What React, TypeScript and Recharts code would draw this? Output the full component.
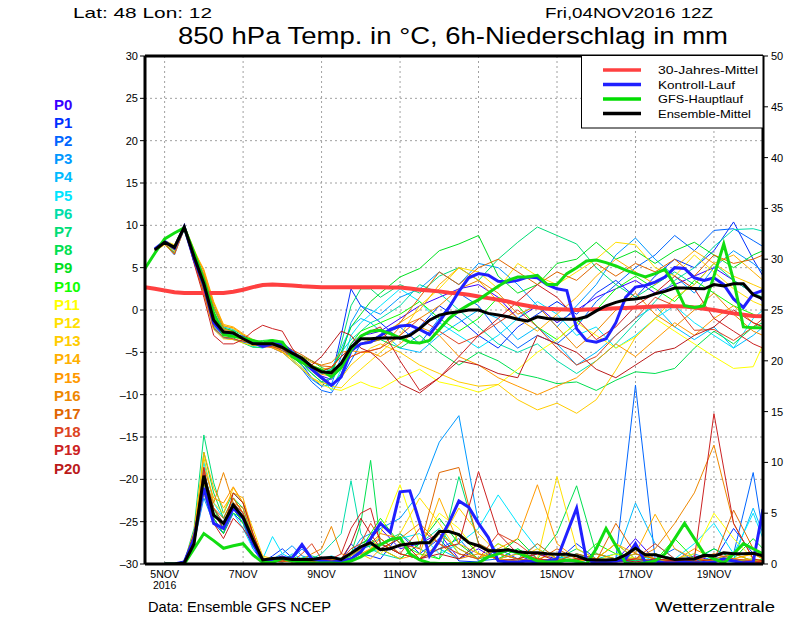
import React from "react";
import { LineChart, Line, XAxis, YAxis, CartesianGrid, ReferenceLine } from "recharts";

// hours after Fri 04NOV2016 12Z, 6-hourly
const HOURS = [
  0, 6, 12, 18, 24, 30, 36, 42, 48, 54, 60, 66, 72, 78, 84, 90,
  96, 102, 108, 114, 120, 126, 132, 138, 144, 150, 156, 162, 168, 174, 180, 186,
  192, 198, 204, 210, 216, 222, 228, 234, 240, 246, 252, 258, 264, 270, 276, 282,
  288, 294, 300, 306, 312, 318, 324, 330, 336, 342, 348, 354, 360, 366, 372, 378,
];

// member runs are read at 6h to h144, then 12h
const MEMBER_HOURS = [
  6, 12, 18, 24, 30, 36, 42, 48, 54, 60, 66, 72, 78, 84, 90, 96, 102, 108, 114, 120, 126, 132, 138, 144,
  156, 168, 180, 192, 204, 216, 228, 240, 252, 264, 276, 288, 300, 312, 324, 336, 348, 360, 372, 378,
];
const RAIN_HOURS = MEMBER_HOURS.slice(1);

const X_TICKS = [12, 60, 108, 156, 204, 252, 300, 348];
const X_TICK_LABELS = ["5NOV", "7NOV", "9NOV", "11NOV", "13NOV", "15NOV", "17NOV", "19NOV"];
const TEMP_TICKS = [-30, -25, -20, -15, -10, -5, 0, 5, 10, 15, 20, 25, 30];
const RAIN_TICKS = [0, 5, 10, 15, 20, 25, 30, 35, 40, 45, 50];

// 850 hPa temperature, main curves
const T_CLIMATE = [
  2.7, 2.5, 2.3, 2.1, 2.0, 2.0, 2.0, 2.0,
  2.0, 2.15, 2.4, 2.7, 2.95, 3.0, 2.95, 2.9,
  2.8, 2.75, 2.7, 2.7, 2.7, 2.7, 2.7, 2.7,
  2.7, 2.65, 2.65, 2.55, 2.4, 2.3, 2.2, 2.05,
  1.95, 1.8, 1.6, 1.4, 1.2, 1.0, 0.7, 0.5,
  0.3, 0.15, 0.1, 0.05, 0.0, 0.05, 0.1, 0.15,
  0.2, 0.25, 0.3, 0.35, 0.4, 0.45, 0.45, 0.4,
  0.3, 0.15, 0.0, -0.2, -0.4, -0.55, -0.7, -0.75,
];
const T_CONTROL = [
  null, 7.2, 8.1, 7.3, 9.8, 6.0, 3.0, -1.5,
  -2.8, -3.0, -3.2, -3.8, -4.3, -4.0, -4.0, -5.0,
  -6.0, -7.0, -8.0, -8.9, -7.9, -4.8, -4.0, -3.8,
  -3.0, -2.3, -1.9, -1.8, -2.3, -2.9, -1.4, 0.3,
  2.2, 3.8, 4.3, 4.1, 3.4, 3.3, 3.5, 3.9,
  3.8, 3.0, 2.5, 2.3, -2.2, -3.6, -3.8, -3.4,
  -1.5, 1.5, 2.7, 2.9, 3.3, 3.9, 5.0, 4.9,
  3.8, 3.5, 3.8, 3.0, 1.3, 0.3, 1.9, 2.3,
];
const T_GFS = [
  4.9, 6.7, 8.4, 9.1, 9.7, 6.8, 3.5, -0.4,
  -2.9, -3.1, -3.3, -3.6, -3.9, -3.6, -3.8, -5.5,
  -6.2, -6.7, -7.1, -7.9, -6.8, -4.7, -3.1, -2.5,
  -2.4, -2.8, -3.3, -3.8, -3.9, -3.6, -2.3, -1.0,
  -0.1, 0.6, 1.2, 2.0, 2.8, 3.5, 3.9, 3.9,
  4.1, 3.0, 3.0, 4.3, 5.0, 5.8, 5.9, 5.6,
  5.2, 4.7, 4.3, 3.9, 4.3, 4.8, 3.0, 0.5,
  0.3, 0.5, 4.0, 7.8, 3.5, -2.0, -2.1, -2.1,
];
const T_MEAN = [
  null, 7.1, 8.0, 7.4, 9.8, 6.3, 3.1, -1.2,
  -2.6, -2.7, -3.4, -4.0, -4.0, -4.0, -4.4, -5.1,
  -5.7, -6.7, -7.3, -7.4, -6.3, -4.4, -3.4, -3.4,
  -3.3, -3.3, -3.3, -3.0, -2.2, -1.2, -0.6, -0.35,
  -0.2, 0.0, 0.0, -0.4, -0.6, -0.8, -1.1, -1.3,
  -0.8, -1.0, -1.1, -1.1, -1.1, -0.8, -0.1, 0.5,
  0.9, 1.2, 1.3, 1.5, 1.9, 2.2, 2.6, 2.6,
  2.55, 2.5, 3.0, 2.85, 3.1, 3.1, 1.8, 1.3,
];

// 6h precipitation (mm), main curves
const R_CONTROL = [
  null, null, 0, 0, 0.2, 2.5, 7.5, 4.0,
  3.5, 5.5, 4.5, 2.0, 0.3, 0.3, 0.6, 0.6,
  1.9, 0.5, 0.3, 0.2, 0.3, 0.5, 1.2, 2.5,
  4.0, 3.1, 7.1, 7.2, 4.1, 0.8, 2.3, 4.1,
  6.2, 5.6, 4.0, 2.6, 0.3, 0.2, 0.2, 0.3,
  0.2, 0.3, 0.5, 3.0, 5.5, 0.4, 0.1, 0.2,
  0.3, 0.5, 2.0, 0.2, 0.3, 0.1, 0.1, 0.2,
  0.1, 0.1, 0.2, 0.5, 0.3, 0.1, 0.2, 5.4,
];
const R_GFS = [
  null, null, 0, 0, 0, 1.5, 3.0, 2.3,
  1.55, 1.8, 2.0, 0.9, 0.15, 0.15, 0.55, 0.3,
  0.2, 0.1, 0.1, 0.1, 0.05, 0.3, 0.7, 1.3,
  1.9, 2.4, 2.6, 1.0, 0.4, 0.1, 0.05, 0.05,
  0.05, 0.05, 0.1, 0.7, 1.0, 1.4, 1.1, 0.7,
  0.3, 0.2, 0.2, 0.4, 0.3, 0.0, 1.5, 3.5,
  1.8, 0.1, 0.0, 0.1, 0.3, 1.0, 2.5, 4.0,
  2.5, 1.0, 0.5, 0.1, 1.0, 2.0, 1.5, 1.0,
];
const R_MEAN = [
  null, null, 0, 0, 0.1, 2.0, 8.7, 4.8,
  4.0, 5.8, 4.6, 2.4, 0.4, 0.55, 0.6, 0.45,
  0.45, 0.45, 0.6, 0.65, 0.45, 1.05, 1.7, 2.1,
  1.4, 1.5, 1.85, 2.0, 2.1, 2.1, 3.2, 3.2,
  2.9, 2.1, 1.8, 1.3, 1.3, 1.4, 1.2, 1.1,
  1.1, 1.0, 0.95, 0.95, 0.8, 0.45, 0.4, 0.4,
  0.45, 0.9, 1.55, 0.9, 0.9, 0.65, 0.45, 0.5,
  0.5, 0.85, 0.8, 1.1, 1.0, 1.0, 1.05, 0.8,
];

// ensemble members, temperature on MEMBER_HOURS
const T_P0 = [7.2, 8.1, 7.3, 9.9, 6.5, 3.3, -1.0, -2.5, -2.9, -3.5, -4.2, -4.0, -3.8, -4.2, -5.0, -5.8, -7.0, -7.8, -8.2, -6.8, -4.0, -3.0, -2.8, -2.5, -1.0, 0.5, 1.5, 2.5, 3.0, 1.5, -1.0, 0.5, -1.5, 0.0, 1.5, 2.5, 3.5, 2.0, 3.0, 4.0, 5.0, 3.5, 2.0, 1.0];
const T_P1 = [7.0, 7.9, 6.8, 9.7, 6.0, 2.5, -1.8, -3.0, -3.0, -3.2, -3.8, -4.2, -4.3, -4.5, -5.5, -6.5, -8.0, -9.0, -8.0, -3.0, 2.5, 0.5, -0.5, -1.5, -3.5, -2.0, 0.5, -1.0, -3.0, -4.5, -2.0, -0.5, 1.0, -0.5, 2.0, 3.5, 1.5, 4.0, 6.0, 5.0, 7.0, 10.4, 6.0, 4.0];
const T_P2 = [6.9, 7.8, 6.5, 9.6, 5.8, 2.0, -2.2, -3.3, -3.5, -3.8, -4.0, -3.8, -4.5, -5.0, -6.0, -7.0, -8.5, -9.5, -9.8, -8.0, -6.0, -4.0, -3.5, -3.0, -2.0, -4.0, -1.0, 2.0, 0.5, -2.5, -4.5, -3.0, -4.0, -2.0, 1.0, 3.0, 5.0, 6.5, 8.8, 7.0, 9.4, 9.6, 8.2, 7.5];
const T_P3 = [7.3, 8.2, 7.6, 10.0, 7.0, 4.0, -0.2, -2.2, -2.5, -3.3, -4.1, -4.3, -4.0, -4.6, -5.8, -6.8, -8.2, -9.0, -8.8, -5.5, -1.5, 0.5, 0.0, -0.5, 1.5, 2.5, 4.5, 3.0, 5.5, 5.0, 3.0, 0.5, -2.0, 0.5, 3.0, 6.5, 8.5, 6.0, 4.0, 2.0, 5.0, 7.0, 5.5, 4.5];
const T_P4 = [7.1, 8.0, 7.5, 9.8, 6.8, 4.3, 0.5, -2.0, -2.3, -3.0, -3.8, -4.0, -4.2, -4.8, -5.5, -6.2, -7.0, -7.5, -7.0, -4.5, -2.0, -1.0, -1.5, -2.5, -4.5, -5.0, -3.0, -1.5, 0.0, -1.0, -3.5, -2.0, -4.0, -6.5, -5.0, -3.0, -1.0, 0.5, -2.0, -3.5, -2.0, -4.5, -3.0, -2.0];
const T_P5 = [7.2, 8.0, 7.2, 9.8, 6.2, 3.0, -1.3, -2.8, -2.8, -3.6, -4.3, -4.5, -4.0, -4.0, -4.8, -5.5, -6.5, -8.0, -9.5, -7.0, -3.0, -1.5, -0.5, 0.5, 2.5, 1.0, -1.5, -3.0, -4.5, -3.0, -1.0, 1.0, -0.5, -3.0, -2.0, -4.5, -3.0, -1.0, 0.5, -1.5, -3.0, -4.5, -1.0, 0.0];
const T_P6 = [7.0, 7.9, 7.0, 9.7, 6.0, 2.8, -1.5, -2.8, -2.6, -3.2, -3.9, -4.1, -4.0, -4.5, -5.2, -6.0, -7.0, -7.5, -7.0, -5.0, -3.5, -2.5, -1.5, -1.0, 0.5, 3.0, 2.0, 0.0, -2.0, -4.0, -5.0, -4.0, -6.0, -7.5, -6.0, -4.0, -1.5, 1.0, 3.5, 5.0, 7.5, 9.5, 9.6, 9.3];
const T_P7 = [7.3, 8.1, 7.5, 9.9, 6.8, 3.8, -0.5, -2.3, -2.4, -3.0, -3.6, -3.8, -4.2, -4.6, -5.5, -6.5, -7.5, -8.5, -8.0, -4.0, 0.5, 2.5, 2.5, 1.5, 3.0, 2.0, 4.0, 5.0, 3.5, 6.0, 8.0, 9.8, 8.8, 7.8, 5.0, 3.0, 1.5, 3.0, 4.5, 3.0, 5.5, 3.5, 2.0, 1.5];
const T_P8 = [6.9, 7.8, 6.7, 9.6, 5.9, 2.2, -2.0, -3.2, -3.3, -3.9, -4.4, -4.4, -4.0, -4.2, -5.3, -6.2, -7.5, -8.5, -9.0, -7.5, -5.0, -4.0, -3.8, -3.5, -4.5, -3.0, -5.0, -6.5, -5.0, -6.0, -7.5, -8.0, -8.7, -8.5, -9.5, -8.3, -7.3, -7.5, -6.9, -4.5, -2.5, -4.0, -2.0, -1.5];
const T_P9 = [7.1, 8.0, 7.4, 9.8, 6.6, 4.0, 0.2, -2.1, -2.5, -3.3, -3.8, -3.6, -3.5, -4.2, -5.0, -5.5, -6.0, -6.8, -7.2, -5.0, -2.0, -0.5, 1.0, 2.0, 3.9, 4.9, 7.0, 7.8, 8.8, 4.0, 2.0, 3.0, 5.5, 6.0, 8.0, 6.0, 7.0, 5.5, 7.0, 8.0, 6.5, 5.0, 6.5, 7.0];
const T_P10 = [7.2, 8.1, 7.4, 9.9, 6.4, 3.2, -1.1, -2.6, -2.8, -3.5, -4.1, -4.0, -4.1, -4.3, -4.9, -5.6, -6.6, -7.2, -7.5, -6.5, -4.0, -2.5, -2.0, -1.5, -0.5, 1.0, -1.0, -2.5, -1.0, 1.5, 0.5, -2.0, -3.5, -1.5, 0.0, 2.5, 4.0, 2.5, 1.0, 3.5, 2.0, 0.5, -0.5, -1.0];
const T_P11 = [7.0, 7.9, 6.9, 9.7, 6.1, 2.7, -1.6, -2.9, -3.1, -3.6, -4.0, -4.1, -4.3, -4.9, -5.8, -6.8, -8.0, -8.8, -9.3, -9.5, -9.0, -8.5, -9.0, -9.3, -8.0, -7.0, -8.5, -9.0, -9.7, -8.8, -7.0, -5.0, -3.5, -1.5, -3.0, -4.5, -3.2, -1.0, -2.5, -4.0, -5.5, -6.9, -6.7, -4.1];
const T_P12 = [7.3, 8.2, 7.7, 10.0, 7.2, 4.5, 0.8, -1.8, -2.2, -3.0, -3.6, -3.9, -4.0, -4.4, -5.2, -6.0, -7.2, -8.2, -9.0, -9.2, -8.0, -7.0, -6.0, -5.0, -3.0, 0.5, 2.5, 5.0, 4.5, 2.5, 5.5, 4.0, 3.0, 4.5, 6.0, 8.0, 7.7, 5.0, 4.0, 6.5, 4.5, 2.5, 1.0, 0.5];
const T_P13 = [6.9, 7.7, 6.6, 9.5, 5.6, 1.8, -2.3, -3.4, -3.5, -3.9, -4.2, -4.2, -4.4, -5.0, -6.0, -7.0, -8.0, -8.6, -8.8, -8.0, -6.5, -5.5, -4.5, -4.0, -5.0, -6.5, -7.5, -8.5, -9.0, -8.8, -10.6, -11.8, -11.0, -12.2, -10.6, -7.1, -3.2, -1.0, 1.5, 3.0, 5.5, 4.0, 3.0, 2.5];
const T_P14 = [7.1, 8.0, 7.6, 9.8, 7.0, 4.8, 1.0, -1.7, -2.0, -2.8, -3.5, -3.9, -4.2, -4.5, -5.0, -5.8, -6.5, -7.0, -6.8, -5.5, -4.5, -4.0, -3.5, -3.0, -1.5, 0.0, 3.0, 5.0, 3.5, 1.0, -1.0, -2.5, -0.5, 1.5, 4.0, 6.0, 4.5, 3.0, 5.0, 7.0, 5.5, 6.5, 4.5, 3.5];
const T_P15 = [7.2, 8.0, 7.3, 9.9, 6.9, 4.6, 0.8, -1.9, -2.1, -2.9, -3.7, -4.1, -4.5, -5.0, -5.6, -6.3, -7.0, -7.6, -7.8, -7.0, -5.5, -5.0, -5.0, -5.5, -4.0, -2.0, -3.0, -5.5, -6.5, -8.0, -9.0, -10.0, -9.0, -8.0, -6.0, -4.0, -5.5, -3.5, -1.5, -3.0, -1.0, 0.5, -1.5, -2.0];
const T_P16 = [7.0, 7.9, 7.1, 9.7, 6.6, 4.2, 0.4, -2.2, -2.6, -3.3, -3.9, -4.3, -4.4, -4.6, -5.0, -5.5, -6.2, -6.5, -6.2, -5.0, -4.8, -5.0, -4.8, -4.5, -2.0, -1.0, 0.5, 2.5, 3.5, 2.0, -0.5, 0.5, -2.0, -4.5, -2.5, 0.0, 2.0, -0.5, -2.0, 0.0, 2.0, -0.5, -2.5, -3.0];
const T_P17 = [7.3, 8.1, 7.5, 9.9, 6.7, 3.6, -0.8, -2.4, -2.7, -3.2, -3.7, -3.9, -3.8, -4.1, -4.7, -5.3, -6.0, -6.6, -6.7, -5.5, -4.5, -4.0, -3.8, -3.5, -1.5, 1.5, 4.5, 3.0, 5.0, 6.0, 4.5, 3.0, 4.5, 3.5, 5.5, 4.0, 5.5, 4.5, 6.0, 4.0, 6.5, 5.5, 6.0, 6.5];
const T_P18 = [6.9, 7.8, 6.6, 9.6, 5.7, 2.1, -2.1, -3.2, -3.4, -3.7, -4.0, -4.4, -4.3, -4.8, -5.4, -6.0, -6.8, -7.4, -7.6, -6.8, -5.5, -5.0, -4.8, -4.5, -3.0, -1.0, -2.5, -4.0, -3.0, -1.5, 0.0, -2.0, -4.5, -6.5, -5.5, -3.0, -1.0, 1.5, 0.5, -2.4, -2.3, -3.6, -2.0, -1.0];
const T_P19 = [7.1, 7.9, 7.2, 9.8, 5.5, 1.5, -3.0, -4.0, -4.0, -3.5, -2.5, -1.8, -2.2, -2.5, -4.5, -6.0, -7.0, -7.2, -6.8, -5.5, -4.5, -3.0, -2.5, -2.0, -6.0, -9.5, -8.0, -5.5, -3.0, -1.0, 1.0, 3.0, 1.5, -1.0, -3.5, -2.0, 0.5, 2.0, 4.0, 2.5, -1.0, -2.5, -4.0, -4.5];
const T_P20 = [7.2, 8.0, 7.3, 9.8, 6.0, 2.6, -1.6, -2.9, -3.0, -3.4, -3.9, -4.0, -4.1, -4.6, -5.4, -6.0, -6.5, -5.5, -4.0, -2.5, -3.0, -4.5, -5.0, -6.0, -8.7, -9.8, -8.0, -6.0, -6.5, -7.5, -8.0, -3.0, -4.0, -5.0, -7.0, -8.0, -6.5, -5.0, -4.5, -3.0, -2.0, 0.0, -1.5, -2.0];

// ensemble members, precipitation on RAIN_HOURS
const R_P0 = [0, 0, 0.2, 2.5, 8.0, 5.0, 3.5, 6.0, 4.5, 2.0, 0.3, 0.5, 0.8, 0.4, 2.0, 0.5, 0.2, 0.3, 0.4, 1.0, 2.0, 2.5, 3.5, 1.5, 2.0, 3.0, 0.5, 1.5, 0.3, 0.2, 1.0, 0.5, 0.2, 0.5, 0.3, 2.5, 0.4, 0.2, 0.8, 0.3, 0.5, 0.2, 0.3];
const R_P1 = [0, 0, 0.1, 3.0, 9.5, 4.5, 3.0, 5.0, 4.0, 1.5, 0.2, 0.8, 1.5, 0.6, 0.3, 0.2, 0.1, 0.5, 0.3, 2.0, 1.0, 0.8, 0.5, 3.0, 1.0, 2.5, 0.3, 0.2, 1.5, 0.5, 0.2, 0.3, 2.0, 0.5, 0.2, 0.3, 1.0, 0.5, 0.2, 0.3, 3.5, 1.0, 0.5];
const R_P2 = [0, 0, 0.3, 2.8, 7.0, 4.0, 3.0, 6.5, 5.0, 2.5, 0.5, 0.3, 0.2, 0.5, 1.5, 0.6, 0.3, 0.2, 0.1, 0.5, 1.5, 1.8, 2.0, 1.0, 0.5, 1.5, 2.5, 0.3, 0.5, 1.0, 0.3, 0.1, 0.5, 0.3, 0.5, 17.6, 0.5, 1.5, 0.3, 0.5, 1.0, 9.0, 3.0];
const R_P3 = [0, 0, 0.2, 2.0, 6.5, 4.0, 3.5, 5.5, 4.5, 2.0, 0.4, 0.5, 1.0, 1.8, 0.8, 0.5, 0.3, 0.2, 0.5, 1.0, 2.5, 3.0, 3.5, 4.5, 7.0, 12.0, 14.6, 4.0, 1.0, 0.5, 2.0, 0.5, 0.3, 1.0, 0.5, 0.3, 0.2, 0.5, 1.0, 0.3, 0.5, 0.2, 0.1];
const R_P4 = [0, 0, 0.1, 2.5, 8.5, 5.5, 4.0, 6.0, 5.0, 2.0, 0.3, 0.5, 0.3, 1.0, 0.5, 0.3, 0.6, 0.4, 0.3, 0.8, 1.5, 2.0, 2.5, 1.0, 0.5, 1.5, 0.5, 2.0, 0.5, 1.5, 0.3, 0.5, 1.0, 0.3, 0.5, 6.0, 2.0, 0.5, 0.3, 1.5, 0.5, 5.5, 3.0];
const R_P5 = [0, 0, 0.2, 3.0, 10.0, 6.0, 4.5, 5.0, 3.5, 1.5, 0.5, 2.7, 1.0, 0.5, 0.4, 0.3, 0.5, 0.8, 0.5, 0.6, 1.0, 1.2, 1.5, 2.5, 3.0, 1.0, 2.0, 3.5, 6.8, 4.0, 1.5, 0.5, 0.8, 0.3, 0.5, 1.0, 0.3, 0.5, 2.0, 4.0, 1.0, 5.0, 2.5];
const R_P6 = [0, 0, 0.1, 2.2, 7.5, 5.0, 4.0, 5.5, 4.0, 1.8, 0.4, 0.6, 0.4, 0.3, 0.5, 0.5, 1.0, 2.0, 3.0, 8.2, 3.0, 1.5, 1.0, 0.5, 2.0, 3.5, 1.0, 0.5, 1.5, 1.0, 0.5, 0.3, 0.2, 0.5, 1.0, 0.3, 0.4, 0.2, 0.5, 0.3, 0.2, 0.5, 0.3];
const R_P7 = [0, 0, 0.2, 3.5, 12.7, 8.0, 5.0, 7.0, 6.0, 3.0, 0.5, 0.4, 0.5, 0.3, 0.6, 0.8, 0.5, 0.3, 0.4, 0.5, 1.5, 1.8, 2.0, 3.0, 1.5, 0.5, 8.6, 2.0, 1.0, 0.5, 0.3, 0.5, 1.5, 0.5, 0.3, 1.0, 0.5, 0.3, 0.2, 0.5, 0.3, 0.2, 0.1];
const R_P8 = [0, 0, 0.1, 2.0, 11.0, 7.0, 4.5, 6.5, 5.5, 2.5, 0.3, 0.3, 0.6, 0.5, 0.3, 0.2, 0.4, 0.5, 0.3, 1.0, 4.0, 10.2, 2.0, 1.0, 0.5, 3.0, 1.5, 0.5, 2.0, 1.0, 0.5, 3.0, 7.7, 1.0, 0.5, 0.3, 1.0, 0.5, 0.2, 0.5, 0.3, 0.5, 0.2];
const R_P9 = [0, 0, 0.2, 2.8, 9.0, 5.5, 3.5, 5.0, 4.5, 2.0, 0.2, 0.2, 0.3, 0.2, 0.4, 0.3, 0.2, 0.5, 0.3, 0.8, 2.0, 2.5, 1.5, 0.5, 2.0, 4.5, 2.0, 0.5, 1.0, 2.5, 0.5, 0.3, 1.0, 0.5, 2.0, 0.5, 1.0, 0.3, 0.5, 1.5, 0.5, 2.5, 1.5];
const R_P10 = [0, 0, 0.1, 2.5, 8.0, 4.5, 3.0, 5.5, 4.0, 2.2, 0.4, 0.3, 0.5, 0.8, 0.3, 0.4, 0.3, 0.2, 0.6, 1.0, 1.5, 3.0, 4.5, 2.0, 1.0, 0.5, 3.0, 1.0, 0.5, 1.5, 0.3, 0.5, 0.2, 2.0, 1.0, 0.5, 0.3, 2.5, 0.5, 0.3, 1.0, 0.3, 0.5];
const R_P11 = [0, 0, 0.1, 2.0, 7.0, 4.0, 3.5, 6.0, 4.5, 2.5, 0.6, 0.5, 0.3, 0.2, 0.5, 0.3, 0.2, 0.1, 0.3, 0.5, 1.0, 1.5, 3.0, 7.8, 2.0, 5.0, 3.5, 1.0, 0.5, 0.3, 0.5, 0.2, 0.5, 0.3, 1.0, 0.5, 0.3, 0.5, 1.0, 5.0, 2.5, 0.5, 0.3];
const R_P12 = [0, 0, 0.2, 2.5, 9.0, 5.0, 4.0, 6.5, 5.0, 2.0, 0.3, 0.6, 0.4, 0.3, 0.2, 0.5, 0.4, 0.3, 0.2, 0.5, 1.5, 2.0, 1.0, 3.0, 6.5, 4.0, 1.0, 0.5, 2.0, 1.0, 0.5, 8.6, 1.5, 0.5, 0.3, 1.5, 0.5, 0.3, 0.5, 0.2, 0.5, 1.0, 0.5];
const R_P13 = [0, 0, 0.3, 3.0, 10.5, 6.0, 5.0, 7.5, 6.0, 3.5, 0.8, 0.5, 0.3, 0.6, 0.3, 0.4, 0.3, 0.2, 0.5, 0.3, 0.8, 1.5, 2.5, 1.0, 0.5, 2.0, 5.5, 3.0, 1.0, 0.5, 1.5, 0.5, 0.3, 0.5, 2.0, 0.5, 1.0, 0.3, 0.5, 1.0, 0.3, 0.5, 0.2];
const R_P14 = [0, 0, 0.2, 3.2, 11.0, 7.5, 5.5, 7.0, 6.5, 3.0, 0.6, 0.4, 0.3, 0.5, 0.3, 0.4, 0.5, 0.3, 0.4, 0.6, 1.0, 0.5, 1.5, 0.5, 1.0, 6.5, 2.0, 1.0, 0.5, 1.0, 0.5, 1.0, 0.3, 0.5, 2.0, 1.0, 4.9, 1.5, 0.5, 0.3, 0.5, 1.0, 0.5];
const R_P15 = [0, 0, 0.1, 2.6, 9.5, 6.5, 6.0, 7.6, 6.0, 3.0, 0.5, 0.3, 0.6, 0.4, 0.2, 0.3, 0.4, 0.5, 0.3, 0.5, 1.0, 1.5, 2.0, 1.0, 0.5, 3.0, 1.5, 0.5, 1.5, 2.5, 7.8, 2.0, 0.5, 0.3, 0.5, 1.0, 0.5, 0.3, 1.5, 0.5, 1.0, 0.3, 0.2];
const R_P16 = [0, 0, 0.2, 2.2, 8.5, 6.0, 9.0, 6.0, 5.5, 2.8, 0.5, 0.4, 0.5, 0.3, 0.4, 1.0, 1.5, 3.7, 1.0, 0.8, 1.5, 2.0, 3.0, 2.5, 4.0, 2.0, 0.5, 1.0, 0.5, 0.3, 2.0, 0.5, 0.3, 1.0, 0.5, 0.5, 1.5, 4.0, 7.0, 11.7, 4.0, 0.5, 0.3];
const R_P17 = [0, 0, 0.3, 2.8, 8.0, 5.5, 4.5, 6.5, 5.0, 2.5, 0.4, 0.3, 0.2, 0.4, 0.3, 0.3, 0.5, 0.4, 0.3, 0.6, 1.2, 2.5, 4.0, 2.0, 1.5, 9.0, 9.5, 2.0, 1.0, 0.5, 0.3, 1.5, 0.5, 0.3, 4.0, 1.0, 0.5, 0.3, 0.5, 0.3, 5.3, 1.5, 0.5];
const R_P18 = [0, 0, 0.2, 2.4, 9.0, 5.5, 4.0, 6.0, 5.0, 2.0, 0.3, 0.3, 0.4, 0.2, 1.0, 2.0, 0.5, 0.3, 0.4, 1.5, 2.0, 4.0, 2.5, 1.0, 3.5, 2.0, 1.0, 0.5, 3.0, 2.0, 0.5, 0.3, 1.0, 0.5, 0.3, 0.5, 2.0, 0.5, 0.3, 1.0, 0.5, 0.3, 0.2];
const R_P19 = [0, 0, 0.1, 2.0, 9.5, 4.0, 2.5, 4.5, 3.5, 2.0, 0.3, 0.2, 0.3, 0.4, 0.3, 0.2, 0.4, 0.5, 1.0, 3.5, 5.0, 5.5, 2.0, 1.0, 0.5, 1.5, 2.0, 9.1, 3.0, 1.0, 0.5, 0.3, 0.5, 0.3, 0.2, 0.5, 0.3, 0.2, 0.5, 14.8, 4.0, 0.5, 0.3];
const R_P20 = [0, 0, 0.2, 3.0, 8.5, 5.0, 3.5, 7.0, 6.0, 3.0, 0.5, 0.3, 0.5, 0.3, 0.4, 0.6, 0.3, 0.2, 0.5, 2.0, 4.5, 3.0, 1.5, 2.5, 0.5, 1.0, 0.5, 2.0, 0.3, 0.5, 1.0, 0.3, 0.5, 0.3, 0.5, 0.2, 0.5, 0.3, 0.2, 0.5, 0.3, 0.2, 0.1];

const MEMBER_NAMES = ["P0", "P1", "P2", "P3", "P4", "P5", "P6", "P7", "P8", "P9", "P10", "P11", "P12", "P13", "P14", "P15", "P16", "P17", "P18", "P19", "P20"];
const MEMBER_COLORS = [
  "#3a00ff", "#0030ff", "#0066ff", "#0099ff", "#00bbff", "#00e5ff", "#00ddaa",
  "#00dd77", "#00e050", "#00e020", "#10ff00", "#ffff00", "#ffe000", "#ffcc00",
  "#ffb000", "#ff9900", "#ee8800", "#e06600", "#dd4422", "#cc2222", "#bb1a1a",
];
const MEMBER_TEMPS = [T_P0, T_P1, T_P2, T_P3, T_P4, T_P5, T_P6, T_P7, T_P8, T_P9, T_P10, T_P11, T_P12, T_P13, T_P14, T_P15, T_P16, T_P17, T_P18, T_P19, T_P20];
const MEMBER_RAIN = [R_P0, R_P1, R_P2, R_P3, R_P4, R_P5, R_P6, R_P7, R_P8, R_P9, R_P10, R_P11, R_P12, R_P13, R_P14, R_P15, R_P16, R_P17, R_P18, R_P19, R_P20];

const LEGEND = [
  { label: "30-Jahres-Mittel", color: "#ff4040", len: 100 },
  { label: "Kontroll-Lauf", color: "#2020ff", len: 77 },
  { label: "GFS-Hauptlauf", color: "#00dd00", len: 85 },
  { label: "Ensemble-Mittel", color: "#000000", len: 93 },
];

const FONT = "'Liberation Sans', Arial, sans-serif";

const rows = (hours: number[], vals: (number | null)[]) =>
  hours.map((h, i) => ({ h, v: vals[i] }));

function DateTick({ x, y, payload }: any) {
  const i = X_TICKS.indexOf(payload.value);
  return (
    <g fontFamily={FONT} fontSize={10.5} fill="#000">
      <text x={x} y={y + 6} textAnchor="middle">
        {X_TICK_LABELS[i]}
      </text>
      {i === 0 && (
        <text x={x} y={y + 17} textAnchor="middle">
          2016
        </text>
      )}
    </g>
  );
}

const signed = (v: number) => (v < 0 ? "\u2013" + Math.abs(v) : String(v));

export default function App() {
  return (
    <div style={{ position: "absolute", left: 0, top: 0, width: 800, height: 618, background: "#fff" }}>
      <LineChart width={800} height={618} margin={{ top: 56, right: 0, bottom: 24, left: 105 }}>
        <CartesianGrid yAxisId="t" stroke="#a0a0a0" strokeDasharray="2 3" />
        <XAxis
          dataKey="h"
          type="number"
          domain={[0, 378]}
          ticks={X_TICKS}
          tick={<DateTick />}
          tickLine={false}
          axisLine={{ stroke: "#000", strokeWidth: 3 }}
          height={30}
          interval={0}
          allowDataOverflow
        />
        <YAxis
          yAxisId="t"
          domain={[-30, 30]}
          ticks={TEMP_TICKS}
          tickFormatter={signed}
          width={40}
          tickSize={5}
          tickMargin={2}
          interval={0}
          tick={{ fontSize: 11, fill: "#000", fontFamily: FONT }}
          tickLine={{ stroke: "#000" }}
          axisLine={{ stroke: "#000", strokeWidth: 3 }}
          allowDataOverflow
        />
        <YAxis
          yAxisId="p"
          orientation="right"
          domain={[0, 50]}
          ticks={RAIN_TICKS}
          width={37}
          tickSize={5}
          tickMargin={3}
          interval={0}
          tick={{ fontSize: 11, fill: "#000", fontFamily: FONT }}
          tickLine={{ stroke: "#000" }}
          axisLine={{ stroke: "#000", strokeWidth: 3 }}
          allowDataOverflow
        />
        <ReferenceLine yAxisId="t" y={30} stroke="#000" strokeWidth={3} />

        {MEMBER_COLORS.map((c, i) => (
          <Line
            key={"t" + i}
            yAxisId="t"
            data={rows(MEMBER_HOURS, MEMBER_TEMPS[i])}
            dataKey="v"
            stroke={c}
            strokeWidth={1}
            dot={false}
            isAnimationActive={false}
          />
        ))}
        {MEMBER_COLORS.map((c, i) => (
          <Line
            key={"r" + i}
            yAxisId="p"
            data={rows(RAIN_HOURS, MEMBER_RAIN[i])}
            dataKey="v"
            stroke={c}
            strokeWidth={1}
            dot={false}
            isAnimationActive={false}
          />
        ))}

        <Line yAxisId="t" data={rows(HOURS, T_CLIMATE)} dataKey="v" stroke="#ff4040" strokeWidth={4} dot={false} isAnimationActive={false} />
        <Line yAxisId="t" data={rows(HOURS, T_CONTROL)} dataKey="v" stroke="#2020ff" strokeWidth={3} dot={false} isAnimationActive={false} />
        <Line yAxisId="p" data={rows(HOURS, R_CONTROL)} dataKey="v" stroke="#2020ff" strokeWidth={3} dot={false} isAnimationActive={false} />
        <Line yAxisId="t" data={rows(HOURS, T_GFS)} dataKey="v" stroke="#11dd11" strokeWidth={3} dot={false} isAnimationActive={false} />
        <Line yAxisId="p" data={rows(HOURS, R_GFS)} dataKey="v" stroke="#11dd11" strokeWidth={3} dot={false} isAnimationActive={false} />
        <Line yAxisId="t" data={rows(HOURS, T_MEAN)} dataKey="v" stroke="#000" strokeWidth={3} dot={false} isAnimationActive={false} />
        <Line yAxisId="p" data={rows(HOURS, R_MEAN)} dataKey="v" stroke="#000" strokeWidth={3} dot={false} isAnimationActive={false} />
      </LineChart>

      <svg
        width={800}
        height={618}
        style={{ position: "absolute", left: 0, top: 0, pointerEvents: "none" }}
        fontFamily={FONT}
      >
        <text x={73} y={18} fontSize={14.5} textLength={139} lengthAdjust="spacingAndGlyphs">
          Lat: 48 Lon: 12
        </text>
        <text x={545} y={18} fontSize={14.5} textLength={168} lengthAdjust="spacingAndGlyphs">
          Fri,04NOV2016 12Z
        </text>
        <text x={178} y={43.5} fontSize={24.5} textLength={550} lengthAdjust="spacingAndGlyphs">
          850 hPa Temp. in °C, 6h-Niederschlag in mm
        </text>

        {MEMBER_NAMES.map((n, i) => (
          <text key={n} x={54} y={109.5 + i * 18.2} fontSize={15} fontWeight="bold" fill={MEMBER_COLORS[i]}>
            {n}
          </text>
        ))}

        <rect x={581.5} y={55.5} width={181.5} height={72.5} fill="#fff" stroke="#000" strokeWidth={1} />
        {LEGEND.map((e, i) => (
          <g key={e.label}>
            <line x1={603} x2={641} y1={70 + i * 14.5} y2={70 + i * 14.5} stroke={e.color} strokeWidth={3.5} />
            <text x={658} y={74 + i * 14.5} fontSize={11.5} textLength={e.len} lengthAdjust="spacingAndGlyphs">
              {e.label}
            </text>
          </g>
        ))}

        <text x={148} y={612} fontSize={14} textLength={183} lengthAdjust="spacingAndGlyphs">
          Data: Ensemble GFS NCEP
        </text>
        <text x={655} y={612} fontSize={15} textLength={120} lengthAdjust="spacingAndGlyphs">
          Wetterzentrale
        </text>
      </svg>
    </div>
  );
}
